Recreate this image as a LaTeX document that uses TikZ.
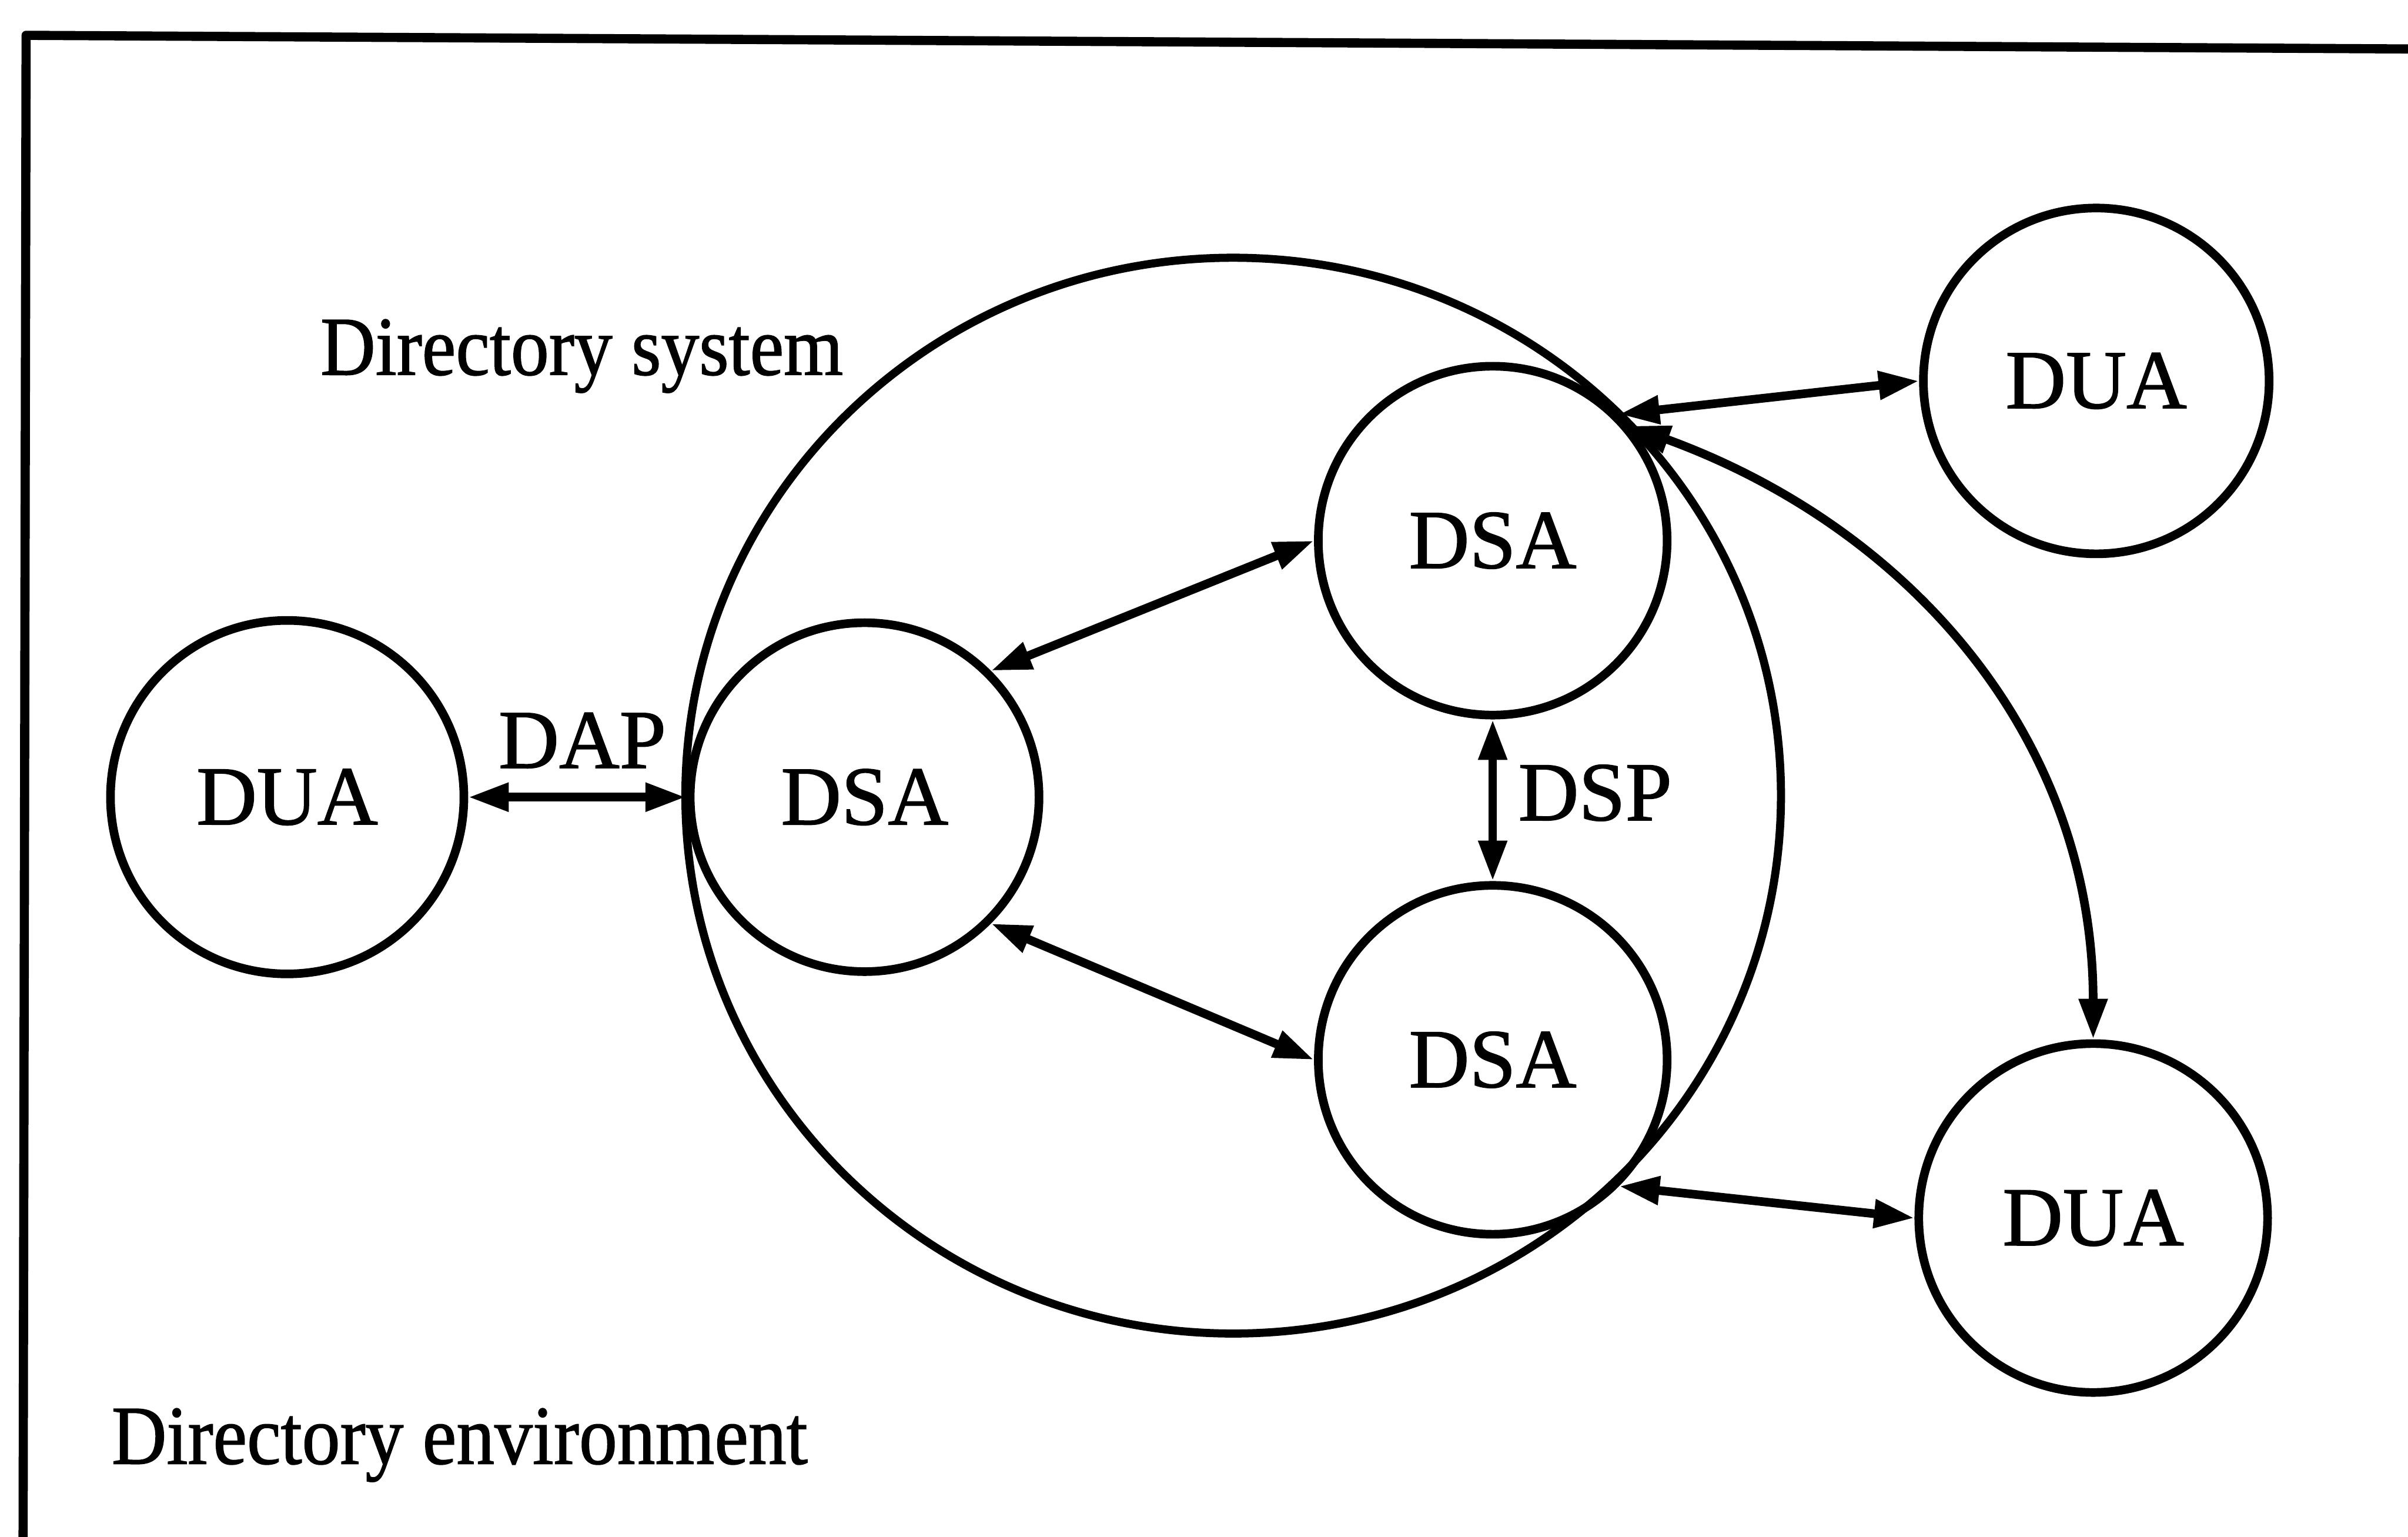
\documentclass[tikz,border=0pt]{standalone}
\usepackage{fontspec}
\setmainfont[FakeBold=1.2]{Liberation Serif}
\usetikzlibrary{arrows.meta,shapes.geometric}
\begin{document}
\begin{tikzpicture}[x=0.01cm,y=-0.01cm,
  agent/.style={circle,draw,line width=1.6pt,minimum size=2.27cm,inner sep=0pt,
    font=\fontsize{15.5}{18}\selectfont},
  realm/.style={ellipse,draw,line width=1.5pt,minimum width=7.13cm,minimum height=7.00cm,inner sep=0pt},
  link/.style={line width=1.6pt,
    {Triangle[length=7.5pt,width=5pt]}-{Triangle[length=7.5pt,width=5pt]}},
  lbl/.style={inner sep=0pt,anchor=base west,font=\fontsize{15.5}{18}\selectfont},
  frame/.style={line width=1.7pt,line join=round}]
\useasboundingbox (0,0) rectangle (1568,1000.6);

% outer frame of the directory environment
\draw[frame] (15,1020) -- (17,23) -- (1590,32);

% directory system boundary
\node[realm] (sys) at (803,518) {};

% agents
\node[agent,minimum size=2.30cm] (lDUA) at (187,519) {DUA};
\node[agent] (lDSA) at (563,519) {DSA};
\node[agent] (tDSA) at (972,352) {DSA};
\node[agent] (bDSA) at (972,690) {DSA};
\node[agent,minimum size=2.25cm] (trDUA) at (1365,248) {DUA};
\node[agent] (brDUA) at (1363,793) {DUA};

% protocol links
\draw[link] (lDUA.east) -- (lDSA.west);
\draw[link] (lDSA.45) -- (tDSA.west);
\draw[link] (lDSA.-45) -- (bDSA.west);
\draw[link] (tDSA.south) -- (bDSA.north);
\draw[link] (tDSA.45) -- (trDUA.west);
\draw[link] (tDSA.40) to[out=-20,in=90] (brDUA.north);
\draw[link] (bDSA.-45) -- (brDUA.west);

% labels
\node[lbl] (dap) at (324,500) {DAP};
\node[lbl] (dsp) at (988,534) {DSP};
\node[lbl] (dsys) at (208,244) {\scalebox{0.91}[1]{Directory system}};
\node[lbl] (denv) at (72,953) {\scalebox{0.91}[1]{Directory environment}};
\end{tikzpicture}
\end{document}
